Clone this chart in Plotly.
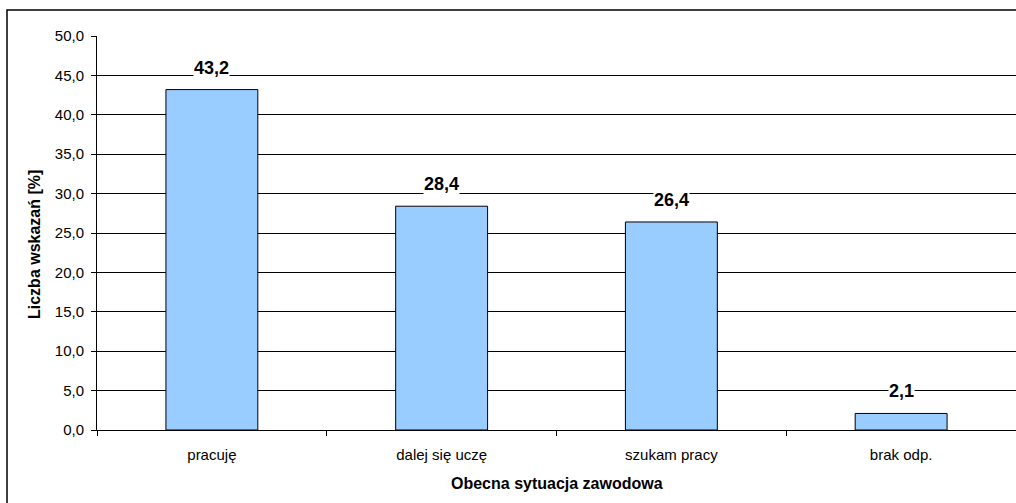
import plotly.graph_objects as go

categories = ["pracuję", "dalej się uczę", "szukam pracy", "brak odp."]
values = [43.2, 28.4, 26.4, 2.1]
y_ticks = [0, 5, 10, 15, 20, 25, 30, 35, 40, 45, 50]

W, H = 1016, 503
ml, mr, mt, mb = 97, 0, 36, 73
pw, ph = W - ml - mr, H - mt - mb

FONT = "Liberation Sans, Arial"

fig = go.Figure()
fig.add_trace(go.Bar(
    x=categories, y=values, width=0.4,
    marker=dict(color="#99CCFF", line=dict(color="black", width=1)),
    hoverinfo="skip",
))

for c, v in zip(categories, values):
    fig.add_annotation(
        x=c, y=v, text="<b>%s</b>" % ("%.1f" % v).replace(".", ","),
        showarrow=False, yanchor="middle", yshift=22,
        font=dict(family=FONT, size=18, color="black"),
        bgcolor="white", borderpad=0,
    )

# axis titles
fig.add_annotation(
    xref="paper", yref="paper", x=0.5, y=-(483 - (mt + ph)) / ph,
    text="<b>Obecna sytuacja zawodowa</b>", showarrow=False,
    xanchor="center", yanchor="middle",
    font=dict(family=FONT, size=16, color="black"),
)
fig.add_annotation(
    xref="paper", yref="paper", x=(34 - ml) / pw, y=(mt + ph - 245) / ph,
    text="<b>Liczba wskazań [%]</b>", showarrow=False, textangle=-90,
    xanchor="center", yanchor="middle",
    font=dict(family=FONT, size=16, color="black"),
)

# outer chart border
fig.add_shape(type="rect", xref="paper", yref="paper",
              x0=(7 - ml) / pw, x1=(W + 20 - ml) / pw,
              y0=-(H + 20 - mt - ph) / ph, y1=1 + (mt - 10) / ph,
              line=dict(color="black", width=1.5), fillcolor="rgba(0,0,0,0)", layer="below")

fig.update_layout(
    width=W, height=H,
    margin=dict(l=ml, r=mr, t=mt, b=mb),
    paper_bgcolor="white", plot_bgcolor="white",
    separators=", ",
    showlegend=False,
    font=dict(family=FONT, size=15, color="black"),
    xaxis=dict(
        showline=True, linecolor="black", linewidth=1,
        ticks="outside", tickson="boundaries", ticklen=5, tickcolor="black",
        showgrid=False, tickfont=dict(size=15), ticklabelstandoff=11,
    ),
    yaxis=dict(
        range=[0, 50], tickvals=y_ticks, tickformat=".1f",
        showline=True, linecolor="black", linewidth=1,
        ticks="outside", ticklen=5, tickcolor="black",
        showgrid=True, gridcolor="black", gridwidth=1,
        zeroline=False, tickfont=dict(size=15), ticklabelstandoff=4,
    ),
)

fig.write_html(
    "out.html",
    config={"displayModeBar": False},
    post_script="document.body.style.margin='0';document.body.style.overflow='hidden';",
)
